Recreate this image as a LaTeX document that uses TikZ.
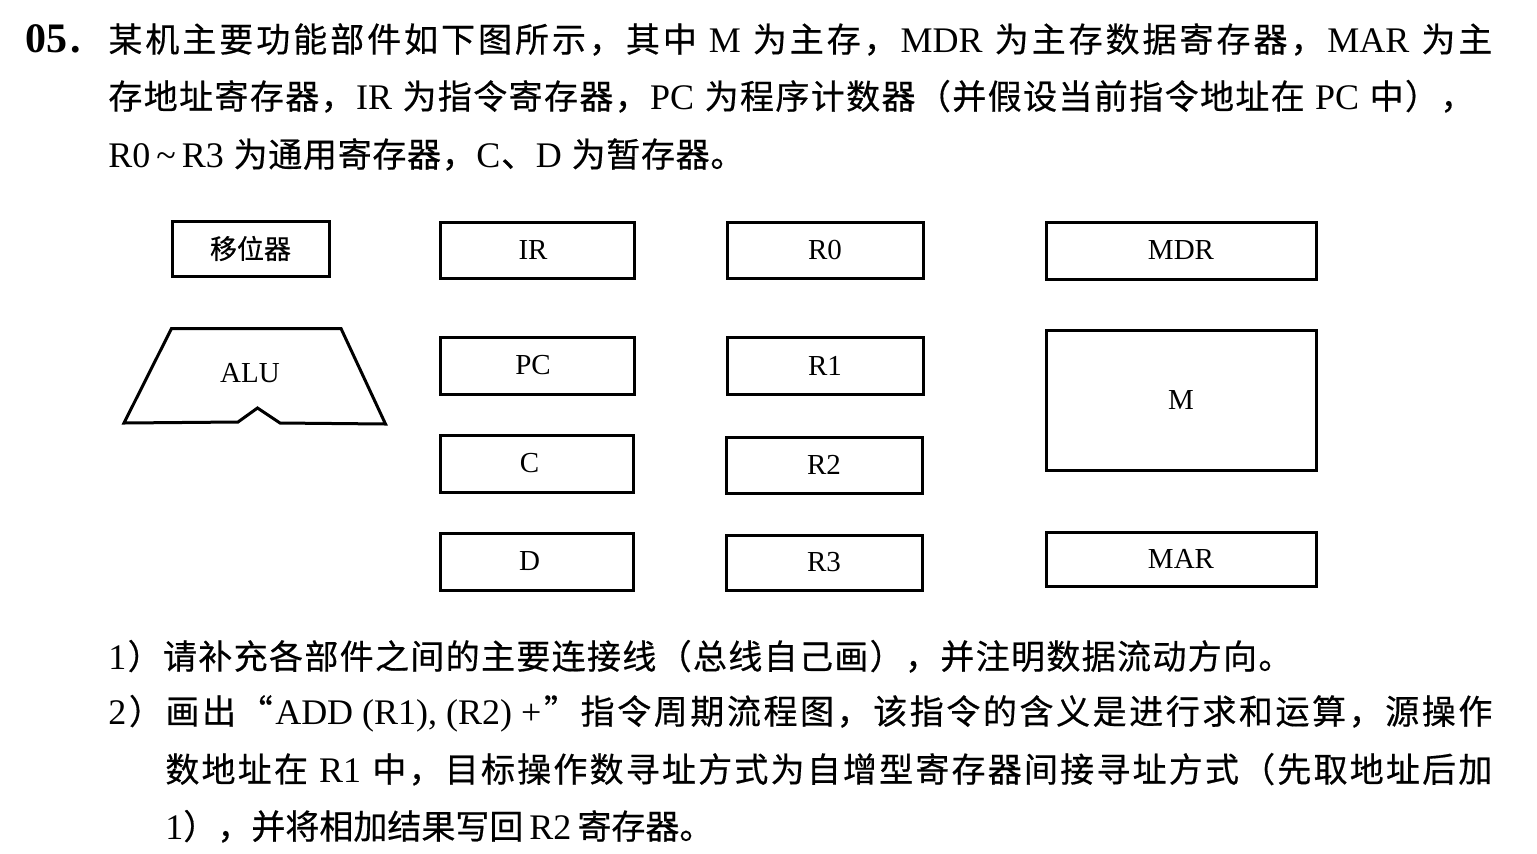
\documentclass[tikz,border=0pt]{standalone}
\usepackage{fontspec}
\setmainfont{Liberation Serif}
\newfontfamily\cjk[FakeBold=0.5]{Noto Sans CJK SC}
\newfontfamily\lat{Liberation Serif}
\makeatletter
\def\spr#1{\spr@a#1\spr@end}
\def\spr@end{\spr@end}
\def\spr@a#1{\ifx\spr@end#1\else{#1}\hskip 0pt plus 1fil\expandafter\spr@a\fi}
\newcommand\jline[2]{\hbox to #1{\spr{#2}\unskip}}
\makeatother
\newcommand\Lt[1]{{\lat\fontsize{18pt}{20pt}\selectfont #1}}
\tikzset{
  regbox/.style={draw, line width=1.5pt, inner sep=0pt, font=\lat\fontsize{14.5pt}{16pt}\selectfont},
  txtline/.style={anchor=base west, inner sep=0pt, font=\cjk\fontsize{17pt}{20pt}\selectfont},
}
\begin{document}
\begin{tikzpicture}[x=0.5pt,y=-0.5pt]
\useasboundingbox (0,0) rectangle (1537,853);
\fill[white] (0,0) rectangle (1537,853);

% question text
\node[anchor=base west, inner sep=0pt, font=\lat\bfseries\fontsize{21pt}{24pt}\selectfont] (num) at (25,52) {05\kern1.5pt.};
\node[txtline] (t1) at (108,52) {\jline{692pt}{某机主要功能部件如下图所示，其中{\Lt{\ M\ }}为主存，{\Lt{MDR\ }}为主存数据寄存器，{\Lt{MAR\ }}为主}};
\node[txtline] (t2) at (108,109) {\jline{683pt}{存地址寄存器，{\Lt{IR\ }}为指令寄存器，{\Lt{PC\ }}为程序计数器（并假设当前指令地址在{\Lt{\ PC\ }}中），}};
\node[txtline] (t3) at (108,167) {\jline{318pt}{{\Lt{R0\,\textasciitilde\,R3\ }}为通用寄存器，{\Lt{C}}、{\Lt{D\ }}为暂存器。}};

% components
\node[regbox, minimum width=78.5pt, minimum height=27.5pt, font=\cjk\fontsize{13.5pt}{16pt}\selectfont] (shift) at (250.5,248.5) {移位器};
\node[regbox, minimum width=97pt, minimum height=28pt] (ir) at (537,250) {\hspace*{-4pt}IR};
\node[regbox, minimum width=98pt, minimum height=28pt] (r0) at (825,250) {R0};
\node[regbox, minimum width=135pt, minimum height=28.5pt] (mdr) at (1181,250.5) {MDR};
\node[regbox, minimum width=97pt, minimum height=28.5pt] (pc) at (537,365.5) {\hspace*{-4pt}PC};
\node[regbox, minimum width=98pt, minimum height=28.5pt] (r1) at (825,365.5) {R1};
\node[regbox, minimum width=135pt, minimum height=70pt] (m) at (1181,400) {M};
\node[regbox, minimum width=96.5pt, minimum height=28.5pt] (c) at (536.5,463.5) {\hspace*{-7pt}C};
\node[regbox, minimum width=98pt, minimum height=28pt] (r2) at (824,465) {R2};
\node[regbox, minimum width=96.5pt, minimum height=28.5pt] (d) at (536.5,561.5) {\hspace*{-7pt}D};
\node[regbox, minimum width=98pt, minimum height=27.5pt] (r3) at (824,562.5) {R3};
\node[regbox, minimum width=135pt, minimum height=27pt] (mar) at (1181,559) {MAR};

% ALU
\draw[line width=1.5pt, line join=miter] (171.5,328.5) -- (341,328.5) -- (385.5,424) -- (280,423) -- (257.5,408) -- (238,422) -- (124,423) -- cycle;
\node[inner sep=0pt, font=\lat\fontsize{14.5pt}{16pt}\selectfont] (alu) at (250,373) {ALU};

% sub-questions
\node[txtline] (q1) at (108,669) {\jline{592pt}{{\Lt{1}}）请补充各部件之间的主要连接线（总线自己画），并注明数据流动方向。}};
\node[txtline] (q2) at (108,724) {\jline{692pt}{{\Lt{2}}）画出“{\Lt{ADD (R1), (R2) +}}”指令周期流程图，该指令的含义是进行求和运算，源操作}};
\node[txtline] (q3) at (165,782) {\jline{663.5pt}{数地址在{\Lt{\ R1\ }}中，目标操作数寻址方式为自增型寄存器间接寻址方式（先取地址后加}};
\node[txtline] (q4) at (165,839) {\jline{270pt}{{\Lt{1}}），并将相加结果写回{\Lt{\ R2\ }}寄存器。}};
\end{tikzpicture}
\end{document}
